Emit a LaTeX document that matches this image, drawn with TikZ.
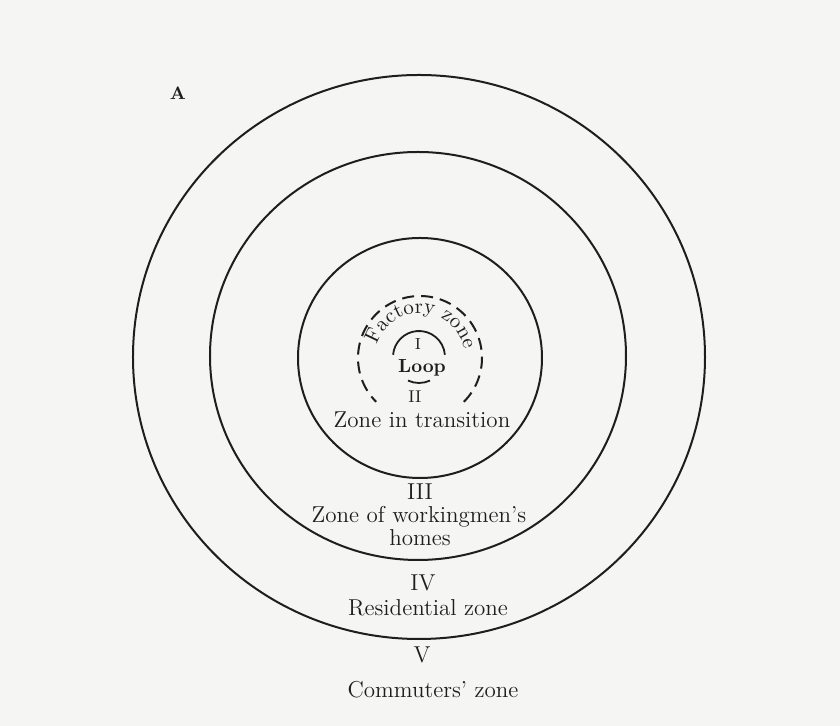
\documentclass[tikz,border=0pt]{standalone}
\usetikzlibrary{decorations.text}
\definecolor{paper}{RGB}{245,245,243}
\definecolor{ink}{RGB}{30,30,30}
\begin{document}
\begin{tikzpicture}[x=0.5pt,y=0.5pt,
  ring/.style={draw=ink,line width=1pt},
  zonelabel/.style={text=ink,font=\fontsize{11.5}{13}\selectfont,inner sep=0pt,align=center},
  smalllabel/.style={zonelabel,font=\fontsize{7.5}{9}\selectfont}]
\fill[paper] (-420,-368) rectangle (420,358);
\useasboundingbox (-420,-368) rectangle (420,358);
% the rings, outer to inner
\draw[ring] (-1,1) ellipse [x radius=286,y radius=282];
\draw[ring] (-2,2) ellipse [x radius=208,y radius=204];
\draw[ring] (0,0) ellipse [x radius=122,y radius=120];
% factory zone, open at the bottom
\draw[ring,dash pattern=on 6pt off 3.5pt] (-45:62) arc[start angle=-45,end angle=225,radius=62];
\path[decorate,decoration={text along path,text align=center,
  text={|\color{ink}\fontsize{10.5}{12}\selectfont|Factory zone}}]
  (158:45) arc[start angle=158,end angle=16,radius=45];
% the loop
\begin{scope}[shift={(-1,1)}]
\draw[ring,line width=0.9pt] (5:26) arc[start angle=5,end angle=175,radius=26];
\draw[ring,line width=0.9pt] (245:26) arc[start angle=245,end angle=295,radius=26];
\end{scope}
\node[smalllabel,font=\fontsize{8}{9}\selectfont] (one) at (-2,14) {I};
\node[zonelabel,font=\bfseries\fontsize{9.5}{11}\selectfont] (loop) at (2,-10) {Loop};
\node[smalllabel,font=\fontsize{8.5}{10}\selectfont] (two) at (-5,-39) {II};
\node[zonelabel] (transition) at (2,-62) {Zone in transition};
\node[zonelabel] (three) at (0,-134) {III};
\node[zonelabel] (workmen) at (-1,-159) {Zone of workingmen's};
\node[zonelabel] (homes) at (0,-180) {homes};
\node[zonelabel] (four) at (3,-225) {IV};
\node[zonelabel] (residential) at (8,-250) {Residential zone};
\node[zonelabel] (five) at (2,-297) {V};
\node[zonelabel] (commuters) at (13,-332) {Commuters' zone};
\node[smalllabel,font=\bfseries\fontsize{9}{10}\selectfont] (panel) at (-242,265) {A};
\end{tikzpicture}
\end{document}
